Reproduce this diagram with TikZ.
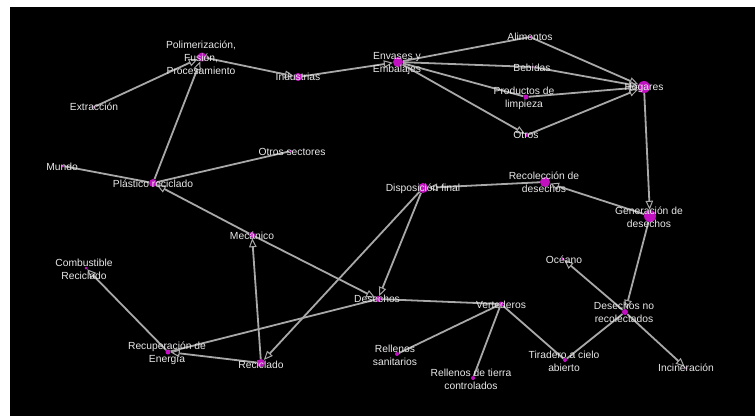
\documentclass[tikz,border=0pt]{standalone}
\usepackage{fontspec}
\setmainfont{Liberation Sans}
\usetikzlibrary{arrows.meta,backgrounds}
\definecolor{edgegray}{RGB}{168,168,168}
\definecolor{dotmag}{RGB}{192,16,192}
\definecolor{txt}{RGB}{232,232,232}
\begin{document}
\begin{tikzpicture}[x=1pt,y=-1pt,
  hub/.style={circle,fill=dotmag,inner sep=0pt,minimum size=#1},
  hub/.default=3pt,
  lbl/.style={text=txt,font=\fontsize{10.3}{13}\selectfont,align=center,inner sep=0pt},
  link/.style={draw=edgegray,line width=1.8pt},
  flow/.style={link,-{Triangle[open,length=9pt,width=7.5pt,line width=1pt]}},
]
\useasboundingbox (0,0) rectangle (755,416);

% points of the flow network
\node[hub=9pt]  (poli) at (202,57)  {};
\node[hub=8pt]  (indu) at (298,77)  {};
\node[hub=3pt]  (extr) at (94,107)  {};
\node[hub=10pt] (env)  at (398,62)  {};
\node[hub=3pt]  (alim) at (530,37)  {};
\node[hub=3pt]  (beb)  at (533,67)  {};
\node[hub=5pt]  (prod) at (526,97)  {};
\node[hub=4pt]  (otr)  at (527,135) {};
\node[hub=12pt] (hog)  at (644,87)  {};
\node[hub=10pt] (rec)  at (545,182) {};
\node[hub=10pt] (disp) at (423,188) {};
\node[hub=12pt] (gen)  at (650,216) {};
\node[hub=3pt]  (osec) at (291,151) {};
\node[hub=3pt]  (mun)  at (63,166)  {};
\node[hub=8pt]  (plas) at (153,183) {};
\node[hub=6pt]  (mec)  at (252,235) {};
\node[hub=3pt]  (comb) at (86,268)  {};
\node[hub=5pt]  (recu) at (168,352) {};
\node[hub=8pt]  (reci) at (261,363) {};
\node[hub=6pt]  (des)  at (378,299) {};
\node[hub=5pt]  (vert) at (501,304) {};
\node[hub=4pt]  (rsan) at (397,354) {};
\node[hub=4pt]  (rtie) at (473,378) {};
\node[hub=4pt]  (tir)  at (565,360) {};
\node[hub=6pt]  (dnr)  at (625,312) {};
\node[hub=3pt]  (oce)  at (563,259) {};
\node[hub=3pt]  (inc)  at (686,368) {};

% labels on top of the points
\node[lbl] (poli-t) at (201,57.5) {Polimerización,\\Fusión,\\Procesamiento};
\node[lbl] (indu-t) at (298,77)  {Industrias};
\node[lbl] (extr-t) at (94,107)  {Extracción};
\node[lbl] (env-t)  at (397,64)  {Envases y\\Embalajes};
\node[lbl] (alim-t) at (530,37)  {Alimentos};
\node[lbl] (beb-t)  at (532,68)  {Bebidas};
\node[lbl] (prod-t) at (524,98)  {Productos de\\limpieza};
\node[lbl] (otr-t)  at (526,135) {Otros};
\node[lbl] (hog-t)  at (644,88)  {Hogares};
\node[lbl] (rec-t)  at (544,182) {Recolección de\\desechos};
\node[lbl] (disp-t) at (423,189) {Disposición final};
\node[lbl] (gen-t)  at (649,217) {Generación de\\desechos};
\node[lbl] (osec-t) at (292,152) {Otros sectores};
\node[lbl] (mun-t)  at (62,167)  {Mundo};
\node[lbl] (plas-t) at (153,184) {Plástico reciclado};
\node[lbl] (mec-t)  at (252,236) {Mecánico};
\node[lbl] (comb-t) at (84,269)  {Combustible\\Reciclado};
\node[lbl] (recu-t) at (167,353) {Recuperación de\\Energía};
\node[lbl] (reci-t) at (261,365) {Reciclado};
\node[lbl] (des-t)  at (377,299) {Desechos};
\node[lbl] (vert-t) at (501,305) {Vertederos};
\node[lbl] (rsan-t) at (395,355) {Rellenos\\sanitarios};
\node[lbl] (rtie-t) at (471,379) {Rellenos de tierra\\controlados};
\node[lbl] (tir-t)  at (564,361) {Tiradero a cielo\\abierto};
\node[lbl] (dnr-t)  at (624,312) {Desechos no\\recolectados};
\node[lbl] (oce-t)  at (564,260) {Océano};
\node[lbl] (inc-t)  at (686,368) {Incineración};

\begin{scope}[on background layer]
  \fill[white] (0,0) rectangle (755,416);
  \fill[black] (10,7) rectangle (755,416);

  % production chain
  \draw[flow] (extr) -- (poli);
  \draw[flow] (plas) -- (poli);
  \draw[flow] (poli) -- (indu);
  \draw[flow] (indu) -- (env);
  \draw[link] (env) -- (alim);
  \draw[link] (env) -- (beb);
  \draw[link] (env) -- (prod);
  \draw[flow] (env) -- (otr);
  \draw[flow] (alim) -- (hog);
  \draw[flow] (beb) -- (hog);
  \draw[flow] (prod) -- (hog);
  \draw[flow] (otr) -- (hog);

  % waste handling
  \draw[flow] (hog) -- (gen);
  \draw[flow] (gen) -- (rec);
  \draw[flow] (rec) -- (disp);
  \draw[flow] (disp) -- (des);
  \draw[flow] (disp) -- (reci);
  \draw[flow] (gen) -- (dnr);
  \draw[flow] (dnr) -- (oce);
  \draw[flow] (dnr) -- (inc);
  \draw[link] (tir) -- (dnr);
  \draw[link] (des) -- (vert);
  \draw[link] (vert) -- (rsan);
  \draw[link] (vert) -- (rtie);
  \draw[link] (vert) -- (tir);

  % recycling loop
  \draw[flow] (mec) -- (plas);
  \draw[flow] (mec) -- (des);
  \draw[flow] (reci) -- (mec);
  \draw[flow] (reci) -- (recu);
  \draw[link] (des) -- (recu);
  \draw[flow] (recu) -- (comb);
  \draw[link] (mun) -- (plas);
  \draw[link] (osec) -- (plas);
\end{scope}
\end{tikzpicture}
\end{document}
